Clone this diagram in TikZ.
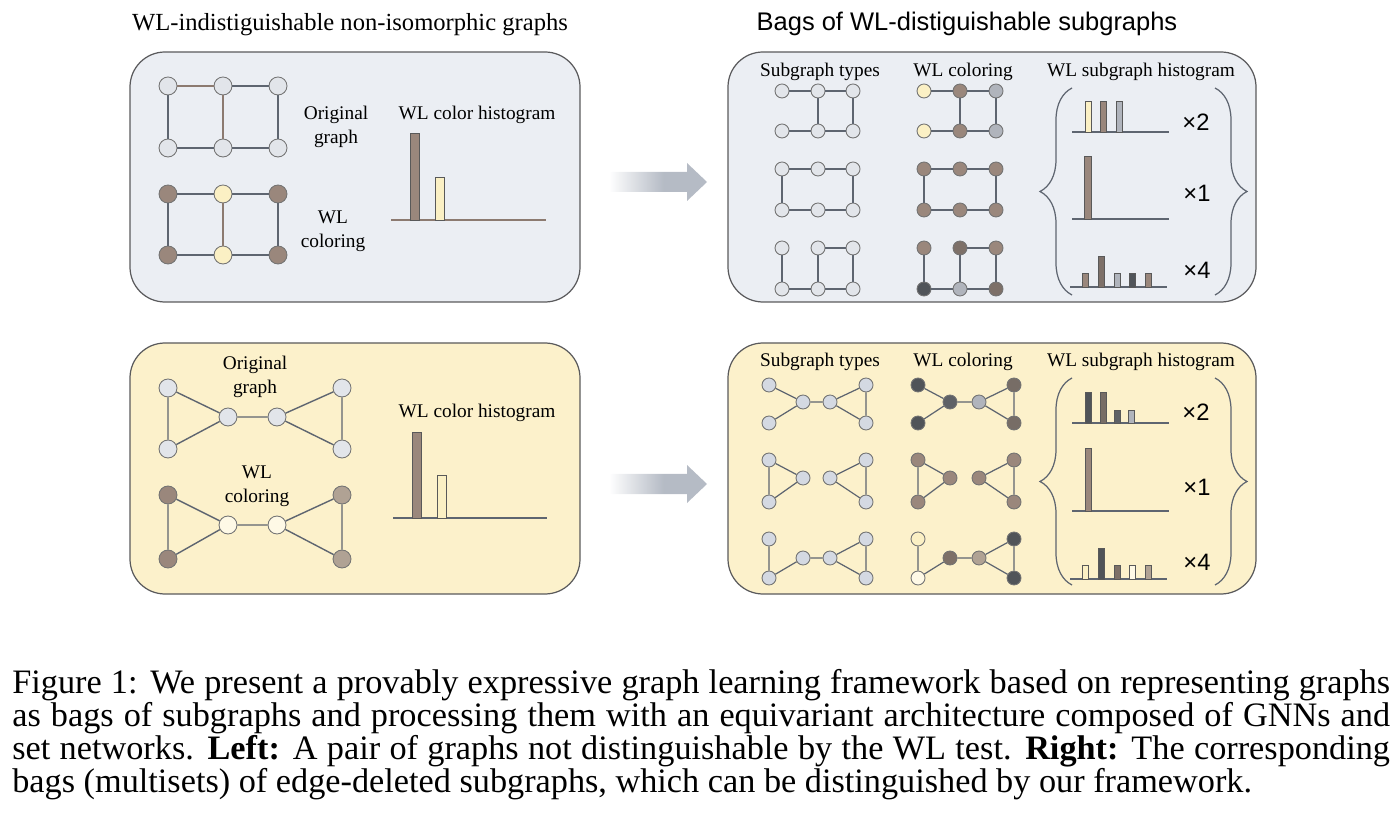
\documentclass[tikz,border=0pt]{standalone}
\usepackage{fontspec}
\setmainfont{Liberation Serif}
\newfontfamily\mulfont{Liberation Sans}
\usetikzlibrary{decorations.pathreplacing}

\definecolor{panelblue}{RGB}{235,238,243}
\definecolor{panelyellow}{RGB}{252,241,203}
\definecolor{framegray}{RGB}{90,90,92}
\definecolor{edgegray}{RGB}{94,101,112}
\definecolor{edgebrown}{RGB}{140,122,112}
\definecolor{vlight}{RGB}{226,229,234}
\definecolor{vblue}{RGB}{212,217,226}
\definecolor{wlbrown}{RGB}{154,135,124}
\definecolor{wlbrowndk}{RGB}{125,112,104}
\definecolor{wlsmoke}{RGB}{119,109,102}
\definecolor{wltan}{RGB}{176,162,148}
\definecolor{wlyellow}{RGB}{251,240,196}
\definecolor{wlpale}{RGB}{254,249,230}
\definecolor{wlgray}{RGB}{176,180,188}
\definecolor{wlslate}{RGB}{94,97,102}
\definecolor{wldark}{RGB}{80,84,89}
\definecolor{arrowgray}{RGB}{181,187,197}

\pgfdeclarehorizontalshading{arrowfade}{100bp}{color(0bp)=(white); color(30bp)=(white); color(55bp)=(arrowgray); color(100bp)=(arrowgray)}

\tikzset{
  panel/.style={draw=framegray, line width=0.7pt, rounded corners=0.7cm},
  vtx/.style={circle, draw=black!55, line width=0.5pt, inner sep=0pt, minimum size=3.6mm},
  svtx/.style={vtx, minimum size=2.8mm},
  edge/.style={draw=edgegray, line width=0.8pt},
  bedge/.style={draw=edgebrown, line width=0.8pt},
  sedge/.style={draw=edgegray, line width=0.7pt},
  bar/.style={draw=black!65, line width=0.4pt},
  histbase/.style={draw=edgegray, line width=0.7pt},
  lbl/.style={font=\fontsize{11}{13.5}\selectfont, align=center, inner sep=0pt},
  ttl/.style={font=\fontsize{14}{17}\selectfont, inner sep=0pt},
  mult/.style={font=\mulfont\fontsize{13.5}{16}\selectfont, inner sep=0pt},
  bag/.style={draw=edgegray, line width=0.7pt, decorate, decoration={brace, amplitude=0.64cm}}
}

\begin{document}
\begin{tikzpicture}[x=0.02cm, y=-0.02cm]
\useasboundingbox (0,0) rectangle (1400,827);

% panels
\draw[panel, fill=panelblue] (130,52) rectangle (580,302);
\draw[panel, fill=panelblue] (728,52) rectangle (1256,302);
\draw[panel, fill=panelyellow] (130,343) rectangle (580,594);
\draw[panel, fill=panelyellow] (728,343) rectangle (1256,594);

% titles
\node[ttl, anchor=base] (lefttitle) at (350,30.5) {WL-indistiguishable non-isomorphic graphs};
\node[ttl, font=\mulfont\fontsize{14.5}{17}\selectfont, anchor=base] (righttitle) at (967,30.5) {Bags of WL-distiguishable subgraphs};

% arrows
\foreach \yc in {182,484}
  \shade[shading=arrowfade] (598,\yc-10) -- (687,\yc-10) -- (687,\yc-19) -- (707,\yc) -- (687,\yc+19) -- (687,\yc+10) -- (598,\yc+10) -- cycle;

%%% top left
\foreach \n/\x/\y in {a/168/86, b/223/86, c/278/86, d/168/148, e/223/148, f/278/148}
  \node[vtx, fill=vlight] (tlo\n) at (\x,\y) {};
\foreach \n/\x/\y/\c in {a/168/194/wlbrown, b/223/194/wlyellow, c/278/194/wlbrown, d/168/255/wlbrown, e/223/255/wlyellow, f/278/255/wlbrown}
  \node[vtx, fill=\c] (tlw\n) at (\x,\y) {};
\foreach \g in {tlo,tlw} {
  \draw[edge] (\g b) -- (\g c) (\g a) -- (\g d) (\g c) -- (\g f) (\g d) -- (\g e) (\g e) -- (\g f);
  \draw[bedge] (\g b) -- (\g e);
}
\draw[bedge] (tloa) -- (tlob);
\draw[edge] (tlwa) -- (tlwb);

\node[lbl] (origlbl) at (336,127) {Original\\graph};
\node[lbl] (wllbl) at (333,231) {WL\\coloring};
\node[lbl] (histlbl) at (477,115) {WL color histogram};
\draw[histbase, draw=edgebrown] (391,220) -- (546,220);
\draw[bar, fill=wlbrown] (410,220) rectangle (419,133);
\draw[bar, fill=wlyellow] (435,220) rectangle (444,177);

%%% bottom left
\foreach \n/\x/\y in {lt/168/388, lb/168/449, ml/228/417, mr/277/417, rt/342/388, rb/342/449}
  \node[vtx, fill=vlight] (blo\n) at (\x,\y) {};
\foreach \n/\x/\y/\c in {lt/168/495/wlbrown, lb/168/559/wlbrown, ml/228/525/wlpale, mr/277/525/wlpale, rt/342/495/wltan, rb/342/559/wltan}
  \node[vtx, fill=\c] (blw\n) at (\x,\y) {};
\foreach \g in {blo,blw}
  \draw[edge] (\g lt) -- (\g lb) (\g lt) -- (\g ml) (\g lb) -- (\g ml) (\g ml) -- (\g mr) (\g mr) -- (\g rt) (\g mr) -- (\g rb) (\g rt) -- (\g rb);

\node[lbl] (origlbl2) at (255,377) {Original\\graph};
\node[lbl] (wllbl2) at (257,486) {WL\\coloring};
\node[lbl] (histlbl2) at (477,413) {WL color histogram};
\draw[histbase] (393,518) -- (547,518);
\draw[bar, fill=wlbrown] (412,518) rectangle (421,432);
\draw[bar, fill=wlyellow] (437,518) rectangle (446,475);

%%% top right
\node[lbl] (tshdr) at (820,72) {Subgraph types};
\node[lbl] (twhdr) at (963,72) {WL coloring};
\node[lbl] (thhdr) at (1141,72) {WL subgraph histogram};

\foreach \r/\ya/\yb/\ca/\cb/\cc/\cd/\ce/\cf in {
    1/91/131/wlyellow/wlbrown/wlgray/wlyellow/wlbrown/wlgray,
    2/169/210/wlbrown/wlbrown/wlbrown/wlbrown/wlbrown/wlbrown,
    3/248/289/wlbrown/wlbrowndk/wlbrown/wldark/wlgray/wlbrowndk} {
  \foreach \n/\x/\y in {a/782/\ya, b/818/\ya, c/853/\ya, d/782/\yb, e/818/\yb, f/853/\yb}
    \node[svtx, fill=vlight] (ts\r\n) at (\x,\y) {};
  \foreach \n/\x/\y/\c in {a/924/\ya/\ca, b/960/\ya/\cb, c/996/\ya/\cc, d/924/\yb/\cd, e/960/\yb/\ce, f/996/\yb/\cf}
    \node[svtx, fill=\c] (tw\r\n) at (\x,\y) {};
}
\foreach \g in {ts,tw} {
  \draw[sedge] (\g1a) -- (\g1b) (\g1b) -- (\g1c) (\g1b) -- (\g1e) (\g1c) -- (\g1f) (\g1d) -- (\g1e) (\g1e) -- (\g1f);
  \draw[sedge] (\g2a) -- (\g2b) (\g2b) -- (\g2c) (\g2a) -- (\g2d) (\g2c) -- (\g2f) (\g2d) -- (\g2e) (\g2e) -- (\g2f);
  \draw[sedge] (\g3b) -- (\g3c) (\g3a) -- (\g3d) (\g3b) -- (\g3e) (\g3c) -- (\g3f) (\g3d) -- (\g3e) (\g3e) -- (\g3f);
}

\draw[histbase] (1072,132) -- (1169,132);
\draw[bar, fill=wlyellow] (1085,132) rectangle (1091,101);
\draw[bar, fill=wlbrown] (1100,132) rectangle (1106,101);
\draw[bar, fill=wlgray] (1116,132) rectangle (1122,101);
\draw[histbase] (1072,219) -- (1169,219);
\draw[bar, fill=wlbrown] (1084,219) rectangle (1091,156);
\draw[histbase] (1070,287) -- (1167,287);
\draw[bar, fill=wlbrown] (1082,287) rectangle (1088,273);
\draw[bar, fill=wlbrowndk] (1098,287) rectangle (1104,256);
\draw[bar, fill=wlgray] (1114,287) rectangle (1120,273);
\draw[bar, fill=wldark] (1129,287) rectangle (1135,273);
\draw[bar, fill=wlbrown] (1145,287) rectangle (1151,273);

\draw[bag] (1072,295) -- (1072,88);
\draw[bag] (1215,88) -- (1215,295);
\node[mult] (tmul2) at (1196,122) {×2};
\node[mult] (tmul1) at (1197,193) {×1};
\node[mult] (tmul4) at (1197,270) {×4};

%%% bottom right
\node[lbl] (bshdr) at (820,362) {Subgraph types};
\node[lbl] (bwhdr) at (963,362) {WL coloring};
\node[lbl] (bhhdr) at (1141,362) {WL subgraph histogram};

\foreach \r/\yt/\ym/\yb/\ca/\cb/\cc/\cd/\ce/\cf in {
    1/385/402/423/wldark/wldark/wlslate/wlgray/wlsmoke/wlsmoke,
    2/460/478/502/wlbrown/wlbrown/wlbrown/wlbrown/wlbrown/wlbrown,
    3/539/558/578/wlyellow/wlpale/wlbrowndk/wltan/wldark/wldark} {
  \foreach \n/\x/\y in {lt/769/\yt, lb/769/\yb, ml/803/\ym, mr/830/\ym, rt/866/\yt, rb/866/\yb}
    \node[svtx, fill=vblue] (bs\r\n) at (\x,\y) {};
  \foreach \n/\x/\y/\c in {lt/918/\yt/\ca, lb/918/\yb/\cb, ml/950/\ym/\cc, mr/979/\ym/\cd, rt/1014/\yt/\ce, rb/1014/\yb/\cf}
    \node[svtx, fill=\c] (bw\r\n) at (\x,\y) {};
}
\foreach \g in {bs,bw} {
  \draw[sedge] (\g1lt) -- (\g1ml) (\g1lb) -- (\g1ml) (\g1ml) -- (\g1mr) (\g1mr) -- (\g1rt) (\g1mr) -- (\g1rb) (\g1rt) -- (\g1rb);
  \draw[sedge] (\g2lt) -- (\g2lb) (\g2lt) -- (\g2ml) (\g2lb) -- (\g2ml) (\g2mr) -- (\g2rt) (\g2mr) -- (\g2rb) (\g2rt) -- (\g2rb);
  \draw[sedge] (\g3lt) -- (\g3lb) (\g3lb) -- (\g3ml) (\g3ml) -- (\g3mr) (\g3mr) -- (\g3rt) (\g3mr) -- (\g3rb) (\g3rt) -- (\g3rb);
}

\draw[histbase] (1072,423) -- (1169,423);
\draw[bar, fill=wldark] (1085,423) rectangle (1091,392);
\draw[bar, fill=wlsmoke] (1100,423) rectangle (1106,392);
\draw[bar, fill=wlslate] (1114,423) rectangle (1120,410);
\draw[bar, fill=wlgray] (1128,423) rectangle (1134,410);
\draw[histbase] (1072,511) -- (1169,511);
\draw[bar, fill=wlbrown] (1085,511) rectangle (1091,448);
\draw[histbase] (1070,579) -- (1167,579);
\draw[bar, fill=wlyellow] (1082,579) rectangle (1088,565);
\draw[bar, fill=wldark] (1098,579) rectangle (1104,548);
\draw[bar, fill=wlbrowndk] (1114,579) rectangle (1120,565);
\draw[bar, fill=wlpale] (1129,579) rectangle (1135,565);
\draw[bar, fill=wltan] (1145,579) rectangle (1151,565);

\draw[bag] (1072,585) -- (1072,378);
\draw[bag] (1215,378) -- (1215,585);
\node[mult] (bmul2) at (1196,412) {×2};
\node[mult] (bmul1) at (1197,487) {×1};
\node[mult] (bmul4) at (1197,562) {×4};

% caption
\node[anchor=north west, inner sep=0pt, text width=27.56cm, align=justify, font=\fontsize{19.5}{18.8}\selectfont] (caption) at (12,669) {Figure 1: We present a provably expressive graph learning framework based on representing graphs\linebreak as bags of subgraphs and processing them with an equivariant architecture composed of GNNs and\linebreak set networks. \textbf{Left:} A pair of graphs not distinguishable by the WL test. \textbf{Right:} The corresponding\linebreak bags (multisets) of edge-deleted subgraphs, which can be distinguished by our framework.};
\end{tikzpicture}
\end{document}
